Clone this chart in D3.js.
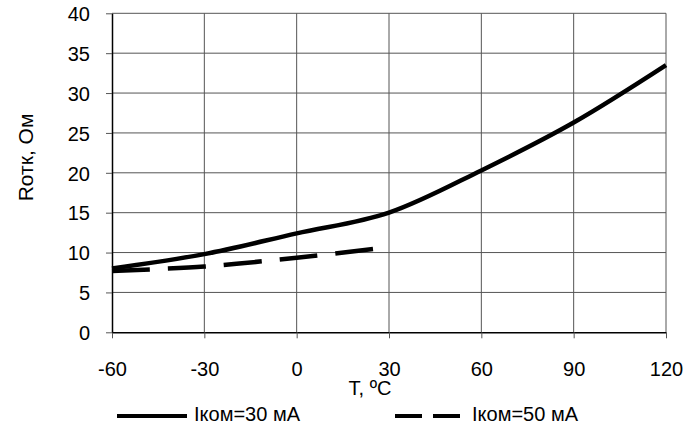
<!DOCTYPE html>
<html>
<head>
<meta charset="utf-8">
<script src="https://cdn.jsdelivr.net/npm/d3@7"></script>
<style>
body { margin: 0; background: white; }
text { font-family: "Liberation Sans", Arial, sans-serif; fill: black; }
</style>
</head>
<body>
<svg width="700" height="434"></svg>
<script>
// temperature, degC
var temp30 = [-60, -30, 0, 30, 60, 90, 120];
var r30 = [8.0, 9.8, 12.4, 15.0, 20.3, 26.3, 33.5];
var temp50 = [-60, -30, 0, 25];
var r50 = [7.7, 8.25, 9.35, 10.45];

var xTicks = [-60, -30, 0, 30, 60, 90, 120];
var yTicks = [0, 5, 10, 15, 20, 25, 30, 35, 40];
var legendLabels = ["Iком=30 мА", "Iком=50 мА"];

var svg = d3.select("svg");
var pLeft = 112, pRight = 666, pTop = 13.3, pBottom = 332.3;

var x = d3.scaleLinear().domain([-60, 120]).range([pLeft, pRight]);
var y = d3.scaleLinear().domain([0, 40]).range([pBottom, pTop]);

// grid
svg.append("g").selectAll("line").data(xTicks.slice(1)).enter()
	.append("line")
	.attr("x1", function(d){return x(d)}).attr("x2", function(d){return x(d)})
	.attr("y1", pTop).attr("y2", pBottom)
	.style("stroke", "#555").style("stroke-width", 1);
svg.append("g").selectAll("line").data(yTicks.slice(1)).enter()
	.append("line")
	.attr("x1", pLeft).attr("x2", pRight)
	.attr("y1", function(d){return y(d)}).attr("y2", function(d){return y(d)})
	.style("stroke", "#555").style("stroke-width", 1);

// axes
var fmt = function(d){return String(d)};
var xAxis = svg.append("g").attr("transform", "translate(0," + pBottom + ")")
	.call(d3.axisBottom(x).tickValues(xTicks).tickFormat(fmt).tickSize(6).tickSizeOuter(0).tickPadding(24));
var yAxis = svg.append("g").attr("transform", "translate(" + pLeft + ",0)")
	.call(d3.axisLeft(y).tickValues(yTicks).tickFormat(fmt).tickSize(6).tickSizeOuter(0).tickPadding(16));
[xAxis, yAxis].forEach(function(a){
	a.select(".domain").style("stroke", "black").style("stroke-width", 1.5);
	a.selectAll(".tick line").style("stroke", "#555");
	a.selectAll(".tick text").style("font-size", "20px").style("font-family", "Liberation Sans, Arial, sans-serif").style("fill", "black");
});
xAxis.selectAll(".tick text").attr("dy", "0.71em");
yAxis.selectAll(".tick text").attr("dy", "0.36em");

// series
var line = d3.line().curve(d3.curveCardinal.tension(0))
	.x(function(d){return x(d[0])}).y(function(d){return y(d[1])});
var s30 = temp30.map(function(t, i){return [t, r30[i]]});
var s50 = temp50.map(function(t, i){return [t, r50[i]]});
svg.append("path").attr("d", line(s30))
	.style("fill", "none").style("stroke", "black").style("stroke-width", 4.5);
svg.append("path").attr("d", line(s50))
	.style("fill", "none").style("stroke", "black").style("stroke-width", 4.5)
	.style("stroke-dasharray", "38,18");

// axis titles
svg.append("text").attr("x", 370).attr("y", 395).attr("text-anchor", "middle")
	.style("font-size", "20px").text("T, ºC");
svg.append("text").attr("transform", "translate(33,157.5) rotate(-90)").attr("text-anchor", "middle")
	.style("font-size", "21px").text("Rотк, Ом");

// legend
var legend = [{x1: 117, x2: 187, tx: 194, dash: null}, {x1: 395, x2: 460, tx: 472, dash: "27,11"}];
legend.forEach(function(l, i){
	svg.append("line").attr("x1", l.x1).attr("x2", l.x2).attr("y1", 416).attr("y2", 416)
		.style("stroke", "black").style("stroke-width", 4)
		.style("stroke-dasharray", l.dash);
	svg.append("text").attr("x", l.tx).attr("y", 421).style("font-size", "20px").text(legendLabels[i]);
});
</script>
</body>
</html>
